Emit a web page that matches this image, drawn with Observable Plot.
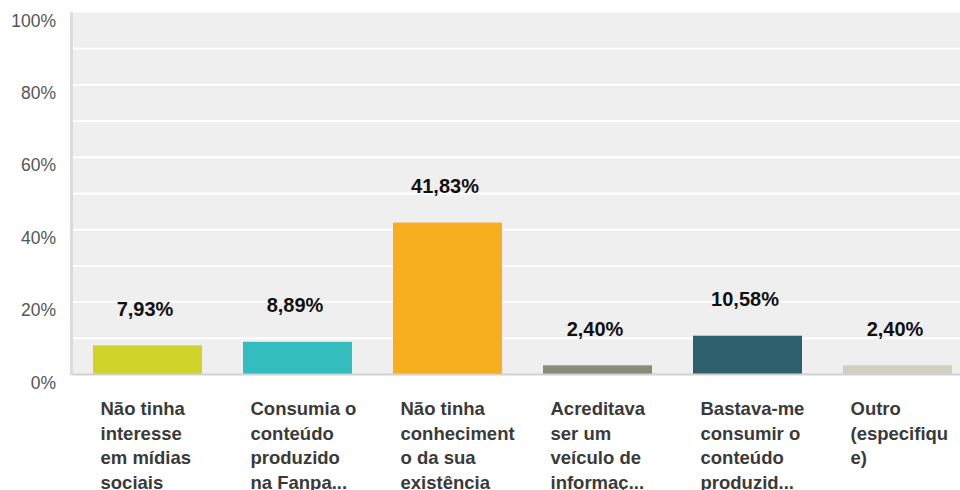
<!DOCTYPE html>
<html>
<head>
<meta charset="utf-8">
<script src="https://cdn.jsdelivr.net/npm/d3@7"></script>
<script src="https://cdn.jsdelivr.net/npm/@observablehq/plot@0.6"></script>
<style>
  html, body { margin: 0; padding: 0; background: #fff; }
  #chart svg { display: block; }
</style>
</head>
<body>
<div id="chart"></div>
<script>
const categories = ["c1", "c2", "c3", "c4", "c5", "c6"];
const labelLines = [
  ["Não tinha", "interesse", "em mídias", "sociais"],
  ["Consumia o", "conteúdo", "produzido", "na Fanpa..."],
  ["Não tinha", "conheciment", "o da sua", "existência"],
  ["Acreditava", "ser um", "veículo de", "informaç..."],
  ["Bastava-me", "consumir o", "conteúdo", "produzid..."],
  ["Outro", "(especifiqu", "e)"]
];
const values = [7.93, 8.89, 41.83, 2.40, 10.58, 2.40];
const colors = ["#d0d32a", "#33bdbf", "#f7ae1f", "#8a8b7a", "#2e5f6d", "#d1cfc0"];
const yTicks = [0, 20, 40, 60, 80, 100];
const gridLines = [10, 20, 30, 40, 50, 60, 70, 80, 90];

const data = categories.map((c, i) => ({
  cat: c,
  value: values[i],
  label: labelLines[i].join("\n"),
  color: colors[i]
}));

const fmt = v => v.toFixed(2).replace(".", ",") + "%";

const leftBorder = (index, scales, vals, dims) => {
  const g = d3.create("svg:g");
  g.append("line")
    .attr("x1", dims.marginLeft - 0.5)
    .attr("x2", dims.marginLeft - 0.5)
    .attr("y1", dims.marginTop)
    .attr("y2", dims.height - dims.marginBottom + 1)
    .attr("stroke", "#dcdcdc")
    .attr("stroke-width", 3);
  return g.node();
};

const chart = Plot.plot({
  width: 960,
  height: 490,
  marginTop: 12,
  marginBottom: 116,
  marginLeft: 72,
  marginRight: 0,
  style: { fontFamily: "'Liberation Sans', Arial, sans-serif", background: "#fff" },
  x: { domain: categories, range: [52, 993], padding: 0.2733, axis: null },
  y: { domain: [0, 100], axis: null },
  color: { type: "identity" },
  marks: [
    Plot.frame({ fill: "#efefef" }),
    Plot.ruleY(gridLines, { stroke: "#fff", strokeWidth: 2 }),
    Plot.barY(data, { x: "cat", y: "value", fill: "color" }),
    Plot.ruleY([0], { stroke: "#d2d2d2", strokeWidth: 2 }),
    leftBorder,
    Plot.text(data, {
      x: "cat", y: "value", text: d => fmt(d.value),
      dy: -36.5, dx: -3, fontSize: 20, fontWeight: "bold", fill: "#111"
    }),
    Plot.text(data, {
      x: "cat", y: 0, text: "label",
      textAnchor: "start", lineAnchor: "top",
      dx: -47.5, dy: 23, fontSize: 18.5, fontWeight: "bold",
      lineHeight: 1.33, fill: "#3a3a3a"
    }),
    Plot.axisY(yTicks, {
      label: null, tickSize: 0, tickPadding: 16.5, tickFormat: d => d + "%",
      fontSize: 17.5, fill: "#555", dy: 8.5
    })
  ]
});

document.getElementById("chart").appendChild(chart);
</script>
</body>
</html>
